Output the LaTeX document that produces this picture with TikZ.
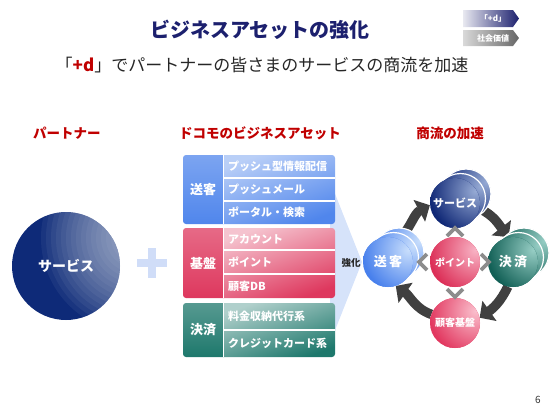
\documentclass[tikz,border=0pt]{standalone}
\usepackage{fontspec}
\setmainfont{Noto Sans CJK JP}
\usetikzlibrary{arrows.meta,backgrounds}
\definecolor{navyT}{RGB}{28,32,110}
\definecolor{hred}{RGB}{192,0,0}
\definecolor{cblue}{RGB}{80,134,236}
\definecolor{ccrim}{RGB}{222,56,94}
\definecolor{cteal}{RGB}{30,120,108}
\definecolor{chevfill}{RGB}{214,227,250}
\definecolor{plusc}{RGB}{208,221,248}
\definecolor{cycgray}{RGB}{64,64,64}
\definecolor{chevgray}{RGB}{140,140,140}
\definecolor{navyC}{RGB}{14,42,120}
\definecolor{lightC}{RGB}{205,214,228}
\definecolor{svO}{RGB}{16,40,118}\definecolor{svI}{RGB}{150,170,212}
\definecolor{keO}{RGB}{18,96,86}\definecolor{keI}{RGB}{150,205,196}
\definecolor{soO}{RGB}{72,128,236}\definecolor{soI}{RGB}{200,222,252}
\definecolor{poO}{RGB}{220,48,88}\definecolor{poI}{RGB}{248,178,196}
\definecolor{kkO}{RGB}{226,56,96}\definecolor{kkI}{RGB}{250,190,204}
\tikzset{
  ttl/.style={font=\bfseries\fontsize{20}{24}\selectfont, text=navyT, inner sep=0},
  sub/.style={font=\fontsize{17}{20}\selectfont, text=black!85, inner sep=0},
  head/.style={font=\bfseries\fontsize{13.5}{16}\selectfont, text=hred, inner sep=0},
  itm/.style={anchor=west, font=\bfseries\fontsize{11}{13}\selectfont, text=white, inner sep=0},
  lab/.style={font=\bfseries\fontsize{13}{15}\selectfont, text=white, inner sep=0},
  sph/.style 2 args={fill=#2, path picture={\shade[inner color=#1, outer color=#2] ([shift={(20pt,12pt)}]path picture bounding box.center) circle (46pt);}},
  ctext/.style={circle, minimum size=50pt, inner sep=0, font=\bfseries\fontsize{11}{13}\selectfont, text=white},
  cyc/.style={line width=9.5pt, draw=cycgray, -{Triangle[length=12pt,width=24pt]}},
  chev/.style={draw=chevgray, line width=3.8pt, miter limit=4},
  sepline/.style={draw=white, line width=1.6pt},
  tag/.style={font=\bfseries\fontsize{8}{9}\selectfont, text=white, inner sep=0},
  stackc/.style={draw=white, line width=1.2pt},
}
\begin{document}
\begin{tikzpicture}[x=1pt,y=1pt]
\useasboundingbox (0,0) rectangle (550,-413);

% title and subtitle
\node[ttl] (title) at (260,-30) {ビジネスアセットの強化};
\node[sub] (subtitle) at (262,-65) {「\textcolor{hred}{\bfseries +d}」でパートナーの皆さまのサービスの商流を加速};

% tags top right
\shade[left color=white!90!navyT, right color=navyT] (463,-10) -- (513,-10) -- (519,-18.5) -- (513,-27) -- (463,-27) -- cycle;
\node[tag] (tagd) at (493,-18.5) {「+d」};
\shade[left color=black!15, right color=black!60] (463,-30) -- (513,-30) -- (519,-38) -- (513,-46) -- (463,-46) -- cycle;
\node[tag] (tagv) at (493,-38) {社会価値};

% headings
\node[head] (hp) at (67,-133) {パートナー};
\node[head] (hd) at (260,-133) {ドコモのビジネスアセット};
\node[head] (hs) at (450,-133) {商流の加速};

% left circle
\node[circle, minimum size=108pt, inner sep=0, fill=navyC,
      path picture={\foreach \r in {10,15,...,95} \fill[lightC, opacity=0.065] ([shift={(70pt,28pt)}]path picture bounding box.center) circle (\r pt);},
      font=\bfseries\fontsize{14}{16}\selectfont, text=white] (svc) at (66,-266) {サービス};

% plus
\fill[plusc] (137,-259) rectangle (167,-267);
\fill[plusc] (148,-248) rectangle (156,-278);

% big light arrow
\fill[chevfill] (330,-181) -- (362,-262) -- (330,-343) -- cycle;
\node[font=\bfseries\fontsize{9.5}{11}\selectfont, text=black!85, inner sep=0] (kyoka) at (351,-263) {強化};

% block 1
\begin{scope}
\clip[rounded corners=3pt] (183,-155) rectangle (335,-224);
\shade[top color=cblue!75, bottom color=cblue] (183,-155) rectangle (224,-224);
\shade[top color=cblue!40, bottom color=cblue, shading angle=20] (224,-155) rectangle (335,-224);
\draw[sepline] (223.5,-155) -- (223.5,-224);
\draw[sepline] (224,-178) -- (335,-178);
\draw[sepline] (224,-201) -- (335,-201);
\end{scope}
\node[lab] (l1) at (203,-189.5) {送客};
\node[itm] (i11) at (228,-166.5) {プッシュ型情報配信};
\node[itm] (i12) at (228,-189.5) {プッシュメール};
\node[itm] (i13) at (228,-212.5) {ポータル・検索};

% block 2
\begin{scope}
\clip[rounded corners=3pt] (183,-228) rectangle (335,-298);
\shade[top color=ccrim!75, bottom color=ccrim] (183,-228) rectangle (224,-298);
\shade[top color=ccrim!30, bottom color=ccrim, shading angle=20] (224,-228) rectangle (335,-298);
\draw[sepline] (223.5,-228) -- (223.5,-298);
\draw[sepline] (224,-250) -- (335,-250);
\draw[sepline] (224,-274) -- (335,-274);
\end{scope}
\node[lab] (l2) at (203,-263) {基盤};
\node[itm] (i21) at (228,-239) {アカウント};
\node[itm] (i22) at (228,-262) {ポイント};
\node[itm] (i23) at (228,-286) {顧客DB};

% block 3
\begin{scope}
\clip[rounded corners=3pt] (183,-303) rectangle (335,-357);
\shade[top color=cteal!75, bottom color=cteal] (183,-303) rectangle (224,-357);
\shade[top color=cteal!35, bottom color=cteal, shading angle=20] (224,-303) rectangle (335,-357);
\draw[sepline] (223.5,-303) -- (223.5,-357);
\draw[sepline] (224,-330) -- (335,-330);
\end{scope}
\node[lab] (l3) at (203,-330) {決済};
\node[itm] (i31) at (228,-316.5) {料金収納代行系};
\node[itm] (i32) at (228,-343.5) {クレジットカード系};

% right cycle: stacks
\foreach \dx/\dy in {11/9,5.5/4.5}{
  \path[stackc, sph={svI}{svO}] (455+\dx,-203+\dy) circle (25);
  \path[stackc, sph={keI}{keO}] (513+\dx,-262+\dy) circle (25);
  \path[stackc, sph={soI}{soO}] (388+\dx,-262+\dy) circle (25);
}
\node[ctext, sph={svI}{svO}] (sv) at (455,-203) {サービス};
\node[ctext, sph={keI}{keO}, font=\bfseries\fontsize{13}{15}\selectfont] (ke) at (513,-262) {決\,済};
\node[ctext, sph={soI}{soO}, font=\bfseries\fontsize{13}{15}\selectfont] (so) at (388,-262) {送\,客};
\node[ctext, sph={poI}{poO}, font=\bfseries\fontsize{10}{12}\selectfont] (po) at (455,-262) {ポイント};
\node[ctext, sph={kkI}{kkO}, font=\bfseries\fontsize{10}{12}\selectfont] (kk) at (455,-323) {顧客基盤};

% cycle arrows
\begin{pgfonlayer}{background}
\draw[cyc] (so.63) to[out=48, in=208] (sv.185);
\draw[cyc] (sv.-13) to[out=-25, in=128] (ke.100);
\draw[cyc] (ke.258) to[out=245, in=35] (kk.12);
\draw[cyc] (kk.160) to[out=160, in=-35] (so.-72);
\end{pgfonlayer}

% chevrons
\draw[chev] (447,-236) -- (455,-228) -- (463,-236);
\draw[chev] (427,-254) -- (419,-262) -- (427,-270);
\draw[chev] (481,-254) -- (489,-262) -- (481,-270);
\draw[chev] (447,-289) -- (455,-297) -- (463,-289);

% page number
\node[font=\fontsize{10}{12}\selectfont, text=black!80, inner sep=0] (pg) at (538,-400) {6};
\end{tikzpicture}
\end{document}
